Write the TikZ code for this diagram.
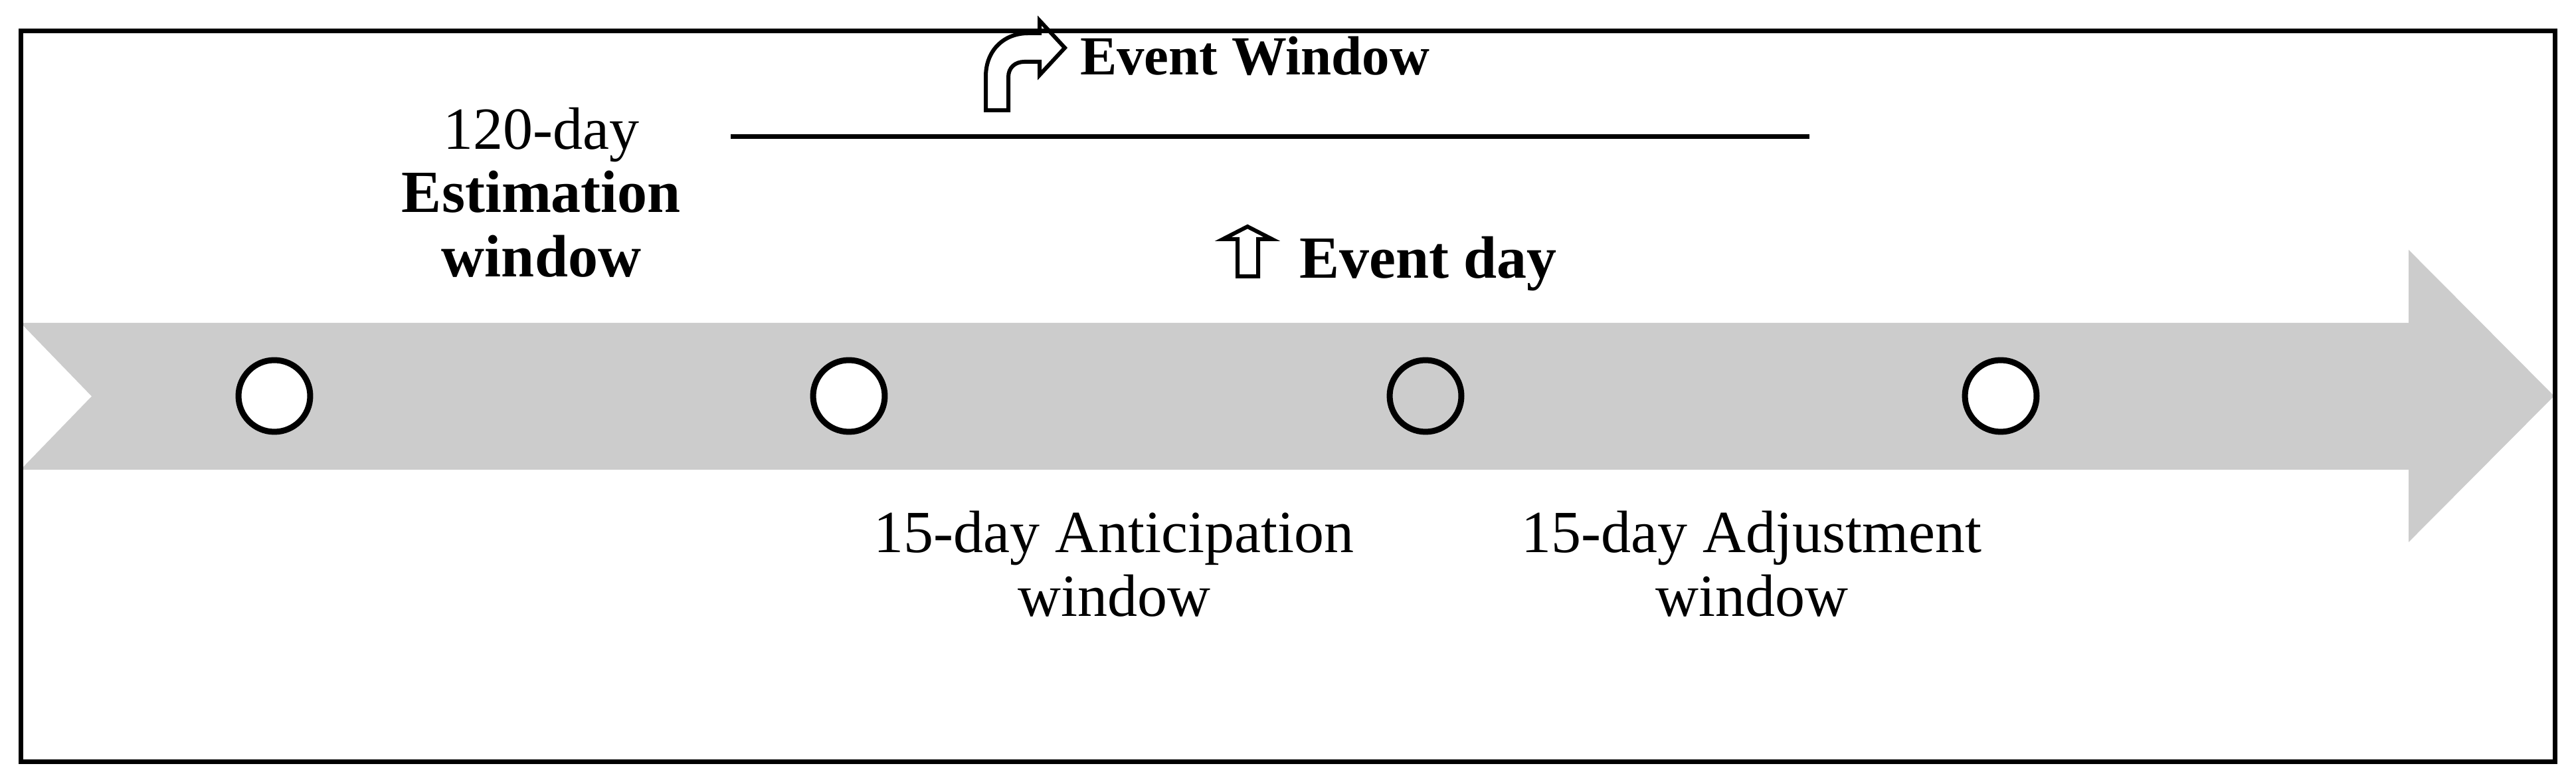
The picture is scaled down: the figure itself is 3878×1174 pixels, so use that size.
\documentclass[tikz,border=0pt]{standalone}
\usepackage{fontspec}
\setmainfont{Liberation Serif}
\definecolor{bandgray}{HTML}{CCCCCC}
\begin{document}
\begin{tikzpicture}[x=0.24pt,y=-0.24pt,
  lbl/.style={inner sep=0pt, outer sep=0pt, anchor=base, font=\fontsize{21.6}{22.8}\selectfont},
  blbl/.style={lbl, font=\fontsize{21.6}{22.8}\selectfont\bfseries},
  dot/.style={circle, draw=black, line width=2.16pt, minimum size=25.9pt, inner sep=0pt},
  icon/.style={draw=black, line width=1.44pt, line join=miter},
  frameline/.style={draw=black, line width=1.68pt}]
\useasboundingbox (0,0) rectangle (3878,1174);
% timeline band
\fill[bandgray] (31,486) -- (3626,486) -- (3626,376) -- (3845,596) -- (3626,816) -- (3626,707) -- (31,707) -- (138,596.5) -- cycle;
% frame
\draw[frameline] (31,46.5) rectangle (3846.5,1146);
% circles
\node[dot, fill=white] (c1) at (413,596) {};
\node[dot, fill=white] (c2) at (1278,596) {};
\node[dot] (c3) at (2146,596) {};
\node[dot, fill=white] (c4) at (3012,596) {};
% estimation window label
\node[lbl] (est1) at (815,225) {120-day};
\node[blbl] (est2) at (815,320) {Estimation};
\node[blbl] (est3) at (815,417) {window};
% event window line
\coordinate (ewL) at (1100,206);
\coordinate (ewR) at (2724,206);
\draw[frameline] (ewL) -- (ewR);
% bent arrow icon
\draw[icon] (1484,166) -- (1484,115) .. controls (1484,77) and (1510,50) .. (1548,50) -- (1565,50) -- (1565,31) -- (1603,72) -- (1565,113) -- (1565,93) -- (1542,93) .. controls (1528,93) and (1518,102) .. (1518,116) -- (1518,166) -- cycle;
\node[inner sep=0pt, outer sep=0pt, anchor=base west, font=\fontsize{19.9}{22}\selectfont\bfseries] (ew) at (1626,113) {Event Window};
% event day
\draw[icon] (1863,416) -- (1863,360) -- (1841,360) -- (1878,341) -- (1915,360) -- (1894,360) -- (1894,416) -- cycle;
\node[blbl, anchor=base west] (ed) at (1956,419) {Event day};
% anticipation window
\node[lbl] (ant1) at (1677,832) {15-day Anticipation};
\node[lbl] (ant2) at (1677,927) {window};
% adjustment window
\node[lbl] (adj1) at (2637,832) {15-day Adjustment};
\node[lbl] (adj2) at (2637,927) {window};
\end{tikzpicture}
\end{document}
